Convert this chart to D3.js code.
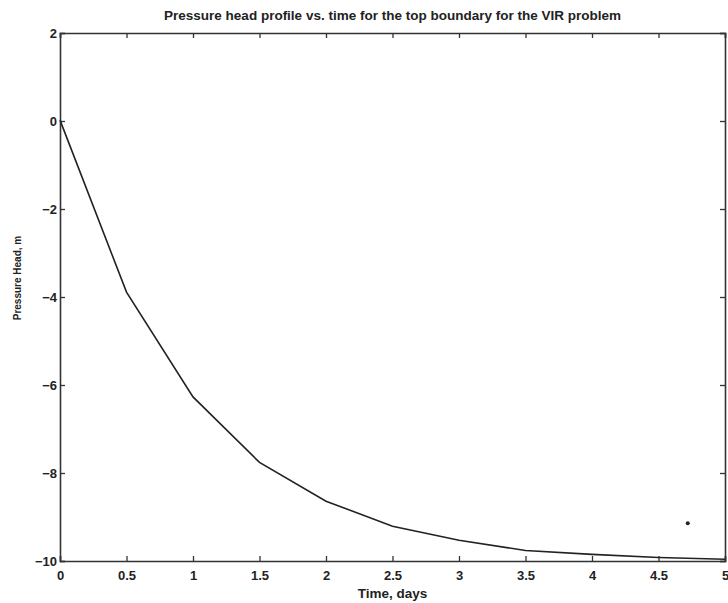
<!DOCTYPE html>
<html>
<head>
<meta charset="utf-8">
<script src="https://cdn.jsdelivr.net/npm/d3@7"></script>
<style>
  body { margin: 0; background: #fff; }
  text { font-family: "Liberation Sans", Arial, sans-serif; fill: #222; }
</style>
</head>
<body>
<div id="chart"></div>
<script>
// time (days) and pressure head (m) at the top boundary
var times = [0, 0.5, 1, 1.5, 2, 2.5, 3, 3.5, 4, 4.5, 5];
var heads = [0.02, -3.89, -6.27, -7.76, -8.64, -9.21, -9.53, -9.76, -9.85, -9.92, -9.96];

// stray point on the plot
var dotTime = [4.72];
var dotHead = [-9.14];

var xTicks = [0, 0.5, 1, 1.5, 2, 2.5, 3, 3.5, 4, 4.5, 5];
var yTicks = [2, 0, -2, -4, -6, -8, -10];

var width = 728, height = 603;
var margin = {top: 33, right: 3, bottom: 42, left: 60};

var svg = d3.select("#chart").append("svg")
    .attr("width", width)
    .attr("height", height);

var x = d3.scaleLinear().domain([0, 5]).range([margin.left, width - margin.right]);
var y = d3.scaleLinear().domain([-10, 2]).range([height - margin.bottom, margin.top]);

var tickLen = 5;
var axisColor = "#333";

// box with inward ticks on all sides (matlab style)
svg.append("g")
    .attr("transform", "translate(0," + y(-10) + ")")
    .call(d3.axisBottom(x).tickValues(xTicks).tickSize(-tickLen).tickPadding(10)
      .tickFormat(function(d) { return d; }))
    .call(styleAxis);

svg.append("g")
    .attr("transform", "translate(0," + y(2) + ")")
    .call(d3.axisTop(x).tickValues(xTicks).tickSize(-tickLen).tickFormat(""))
    .call(styleAxis);

svg.append("g")
    .attr("transform", "translate(" + x(0) + ",0)")
    .call(d3.axisLeft(y).tickValues(yTicks).tickSize(-tickLen).tickPadding(3)
      .tickFormat(function(d) { return d < 0 ? "\u2212" + Math.abs(d) : d; }))
    .call(styleAxis);

svg.append("g")
    .attr("transform", "translate(" + x(5) + ",0)")
    .call(d3.axisRight(y).tickValues(yTicks).tickSize(-tickLen).tickFormat(""))
    .call(styleAxis);

function styleAxis(g) {
  g.select(".domain").attr("stroke", axisColor).attr("stroke-width", 1.6);
  g.selectAll(".tick line").attr("stroke", axisColor).attr("stroke-width", 1.3);
  g.selectAll(".tick text")
    .style("font-family", "'Liberation Sans', Arial, sans-serif")
    .style("font-size", "13px")
    .style("font-weight", "bold")
    .attr("fill", "#222");
}

// the curve
var line = d3.line()
    .x(function(d, i) { return x(times[i]); })
    .y(function(d) { return y(d); });

svg.append("path")
    .datum(heads)
    .attr("d", line)
    .attr("fill", "none")
    .attr("stroke", "#222")
    .attr("stroke-width", 1.6);

svg.selectAll(".dot")
    .data(dotTime)
    .enter().append("circle")
    .attr("class", "dot")
    .attr("cx", function(d) { return x(d); })
    .attr("cy", function(d, i) { return y(dotHead[i]); })
    .attr("r", 2)
    .attr("fill", "#222");

// labels
svg.append("text")
    .attr("x", (x(0) + x(5)) / 2)
    .attr("y", 20)
    .attr("text-anchor", "middle")
    .style("font-size", "13.5px")
    .style("font-weight", "bold")
    .text("Pressure head profile vs. time for the top boundary for the VIR problem");

svg.append("text")
    .attr("x", (x(0) + x(5)) / 2)
    .attr("y", 598)
    .attr("text-anchor", "middle")
    .style("font-size", "13.5px")
    .style("font-weight", "bold")
    .text("Time, days");

svg.append("text")
    .attr("transform", "translate(21," + 278 + ") rotate(-90)")
    .attr("text-anchor", "middle")
    .style("font-size", "10px")
    .style("font-weight", "bold")
    .text("Pressure Head, m");
</script>
</body>
</html>
